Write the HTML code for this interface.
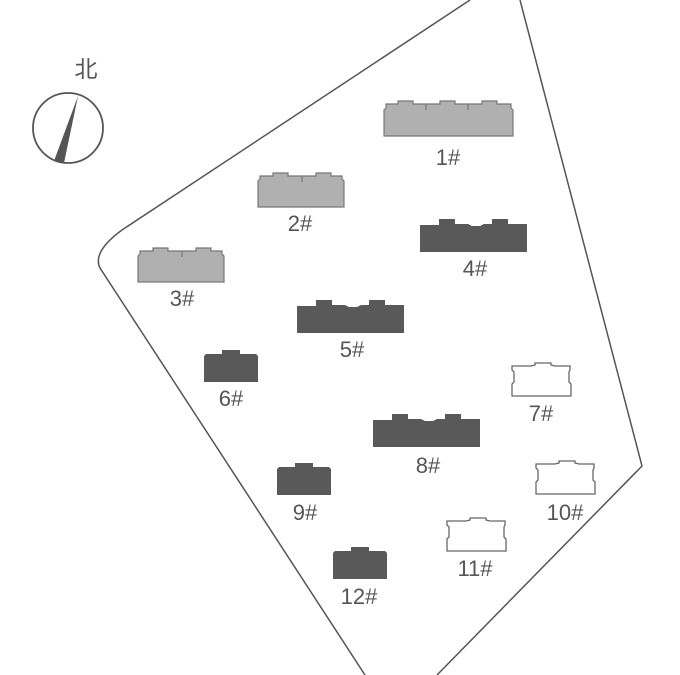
<!DOCTYPE html>
<html><head><meta charset="utf-8"><style>
html,body{margin:0;padding:0;background:#fff;}
svg{display:block;}
text{font-family:"Liberation Sans","Noto Sans CJK SC",sans-serif;fill:#555;font-size:22px;text-anchor:middle;}
</style></head><body>
<svg width="680" height="675" viewBox="0 0 680 675" xmlns="http://www.w3.org/2000/svg">
<defs>
<path id="L" d="M384,136 V110 L386,108 V104 H398 V101 H413 V104 H440 V101 H455 V104 H482 V101 H497 V104 H511 V108 L513,110 V136 Z M426,104 V110 M468,104 V110" fill="#b0b0b0" stroke="#777" stroke-width="1.2"/>
<path id="L2" d="M258,207 V181 L260,179 V176 H273 V173 H288 V176 H316 V173 H331 V176 H342 V179 L344,181 V207 Z M302,176 V182" fill="#b0b0b0" stroke="#777" stroke-width="1.2"/>
<path id="D" d="M420,252 V225 H439 V219 H455 V224 H468 L472,226 H480 L484,224 H492 V219 H508 V224 H527 V252 Z" fill="#595959"/>
<path id="S" d="M204,382 V356 L206,354 H222 V350 H240 V354 H256 L258,356 V382 Z" fill="#595959"/>
<path id="W" d="M512,396 V384 L514,382 V372 L512,370 V366 H531 L535,365 V363 H551 V365 L555,366 H570 V370 L569,372 V382 L571,384 V396 Z" fill="#fff" stroke="#666" stroke-width="1.3"/>
</defs>
<path d="M470,0 L122,230 Q92,252 100,268 L365,675" fill="none" stroke="#555" stroke-width="1.5"/>
<path d="M520,0 L642,466 L437,675" fill="none" stroke="#555" stroke-width="1.5"/>
<circle cx="68" cy="128" r="35" fill="none" stroke="#555" stroke-width="1.8"/>
<path d="M78,96 L64,163 L54,161 Z" fill="#555"/>
<text x="86" y="77" style="font-size:23px">北</text>
<use href="#L"/>
<use href="#L2"/>
<use href="#L2" transform="translate(-120,75)"/>
<use href="#D"/>
<use href="#D" transform="translate(-123,81)"/>
<use href="#D" transform="translate(-47,195)"/>
<use href="#S"/>
<use href="#S" transform="translate(73,113)"/>
<use href="#S" transform="translate(129,197)"/>
<use href="#W"/>
<use href="#W" transform="translate(24,98)"/>
<use href="#W" transform="translate(-65,155)"/>
<text x="448" y="165">1#</text>
<text x="300" y="231">2#</text>
<text x="182" y="306">3#</text>
<text x="475" y="276">4#</text>
<text x="352" y="357">5#</text>
<text x="231" y="406">6#</text>
<text x="541" y="421">7#</text>
<text x="428" y="473">8#</text>
<text x="305" y="520">9#</text>
<text x="565" y="520">10#</text>
<text x="475" y="576">11#</text>
<text x="359" y="604">12#</text>
</svg>
</body></html>
